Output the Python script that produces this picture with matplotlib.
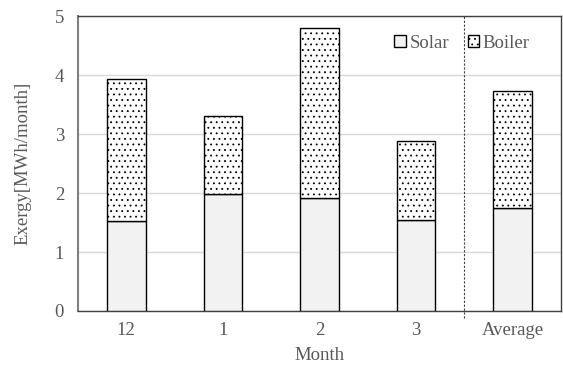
import matplotlib.pyplot as plt
import numpy as np

plt.rcParams['font.family'] = ['Liberation Serif', 'DejaVu Serif']
plt.rcParams['hatch.linewidth'] = 0.6

months = ['12', '1', '2', '3', 'Average']
solar = [1.53, 1.98, 1.92, 1.54, 1.75]
total = [3.93, 3.30, 4.80, 2.88, 3.73]
boiler = [t - s for t, s in zip(total, solar)]

grey = '#595959'
fs = 13.5
fig = plt.figure(figsize=(5.63, 3.67), dpi=100)
ax = fig.add_axes([0.1385, 0.1526, 0.858, 0.803])

x = np.arange(len(months))
ax.bar(x, solar, 0.4, color='#f2f2f2', edgecolor='black', linewidth=1, label='Solar', zorder=3)
ax.bar(x, boiler, 0.4, bottom=solar, color='white', edgecolor='black', hatch='...',
       linewidth=1, label='Boiler', zorder=3)

# dashed separator before the average bar
ax.axvline(3.5, ymin=-0.025, ymax=1, color='#404040', linestyle=(0, (2, 1.5)),
           linewidth=0.8, clip_on=False, zorder=4)

ax.set_xlim(-0.5, 4.5)
ax.set_ylim(0, 5)
ax.set_yticks(range(6))
ax.set_xticks(x)
ax.set_xticklabels(months)
ax.yaxis.grid(True, color='#d9d9d9', linewidth=1, zorder=0)
ax.set_axisbelow(True)
ax.tick_params(axis='x', length=0, labelsize=fs, colors=grey, pad=8)
ax.tick_params(axis='y', length=0, labelsize=fs, colors=grey, pad=10)
for s in ax.spines.values():
    s.set_color('#404040')
    s.set_linewidth(1)
ax.spines['left'].set_color('#7f7f7f')
ax.spines['left'].set_linewidth(1.5)

ax.set_xlabel('Month', fontsize=fs, color=grey, labelpad=6)
ax.set_ylabel('Exergy[MWh/month]', fontsize=fs, color=grey, labelpad=17)

leg = ax.legend(loc='upper right', bbox_to_anchor=(0.97, 0.995), ncol=2, frameon=False,
                fontsize=fs, handlelength=0.6, handleheight=0.6, handletextpad=0.2,
                columnspacing=1.0, labelcolor=grey)

plt.savefig('out.png', dpi=100)
